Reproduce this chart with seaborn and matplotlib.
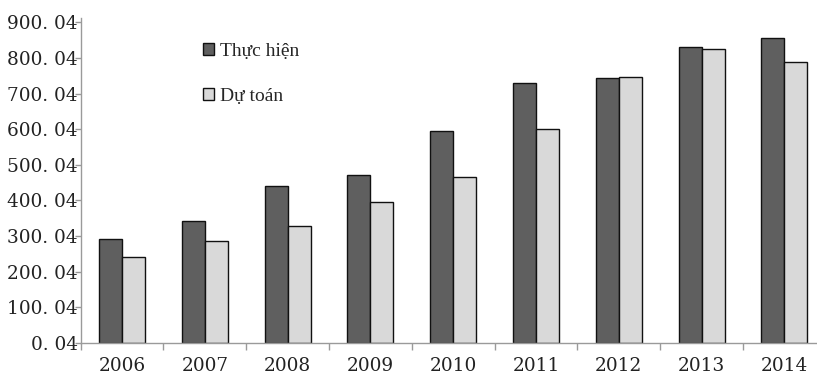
import matplotlib
matplotlib.use("Agg")
import matplotlib.pyplot as plt
import seaborn as sns
import pandas as pd
import numpy as np
from matplotlib.ticker import FixedLocator

# Data (billion VND)
years = ["2006", "2007", "2008", "2009", "2010", "2011", "2012", "2013", "2014"]
thuc_hien = [292, 341, 439, 472, 595, 729, 743, 830, 855]
du_toan = [241, 285, 327, 395, 466, 601, 747, 824, 789]
series_names = ["Thực hiện", "Dự toán"]
y_ticks = [0.04 + 100 * k for k in range(10)]

df = pd.DataFrame({
    "year": years * 2,
    "value": thuc_hien + du_toan,
    "series": [series_names[0]] * len(years) + [series_names[1]] * len(years),
})

sns.set_theme(style="white")
plt.rcParams["font.family"] = ["DejaVu Serif"]

fig = plt.figure(figsize=(8.17, 3.74), dpi=100)
ax = fig.add_axes([80.7 / 817, 31.3 / 374, 745 / 817, 324.4 / 374])

sns.barplot(
    data=df, x="year", y="value", hue="series", order=years,
    hue_order=series_names, palette=["#5f5f5f", "#d9d9d9"],
    width=0.556, edgecolor="#111111", linewidth=1.0, saturation=1,
    ax=ax, legend=True,
)

ax.set_xlim(-0.5, len(years) - 0.5)
ax.set_ylim(0.04, 911.3)
ax.set_xlabel("")
ax.set_ylabel("")

# y axis: labels written with a space after the decimal point
ax.set_yticks(y_ticks)
ax.set_yticklabels([f"{v:.2f}".replace(".", ". ") for v in y_ticks])
ax.tick_params(axis="y", left=True, length=4, width=1, color="#9a9a9a",
               pad=-2, labelsize=13.3, labelcolor="#222222")

# x axis: tick marks between categories, labels at the centres
ax.xaxis.set_minor_locator(FixedLocator(np.arange(-0.5, len(years), 1.0)))
ax.tick_params(axis="x", which="major", length=0, pad=10.5,
               labelsize=13.3, labelcolor="#222222")
ax.tick_params(axis="x", which="minor", bottom=True, length=5, width=1,
               color="#9a9a9a")

for side in ["top", "right"]:
    ax.spines[side].set_visible(False)
for side in ["left", "bottom"]:
    ax.spines[side].set_color("#9a9a9a")
    ax.spines[side].set_linewidth(1.0)

leg = ax.legend(
    loc="upper left", bbox_to_anchor=(203 / 817, 1 - 43 / 374),
    bbox_transform=fig.transFigure, frameon=False,
    prop={"family": "Liberation Serif", "size": 14},
    handlelength=0.55, handleheight=0.55, handletextpad=0.3,
    labelspacing=1.45, borderpad=0, borderaxespad=0,
)
for h in leg.legend_handles:
    h.set_edgecolor("#111111")
    h.set_linewidth(1.0)

fig.savefig("out.png", dpi=100)
